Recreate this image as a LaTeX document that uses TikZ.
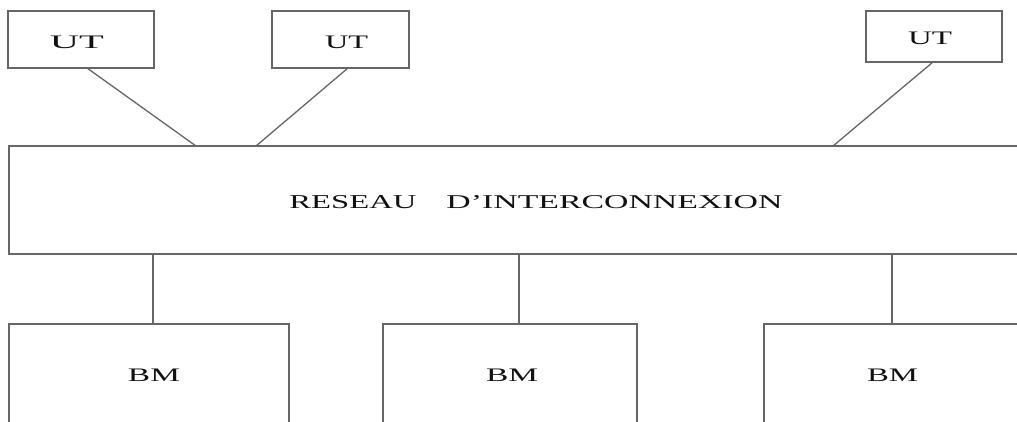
\documentclass[tikz,border=0pt]{standalone}
\usepackage{fontspec}
\setmainfont{Liberation Serif}
\usepackage{graphicx}
\definecolor{lc}{HTML}{666666}
\definecolor{tc}{HTML}{111111}
\newcommand{\stx}[2]{\resizebox{#1pt}{12.5pt}{#2}}
\begin{document}
\begin{tikzpicture}[x=1pt,y=-1pt,
  box/.style={draw=lc,line width=1.3pt,inner sep=0pt,outer sep=0pt,rectangle},
  lbl/.style={inner sep=0pt,outer sep=0pt,text=tc},
  link/.style={draw=lc,line width=1.3pt}]
\useasboundingbox[fill=white] (0,0) rectangle (1017,421);
\clip (0,0) rectangle (1017,421);
% UT boxes
\node[box,minimum width=146pt,minimum height=57pt] (ut1) at (81,39.5) {};
\node[box,minimum width=137pt,minimum height=57pt] (ut2) at (340.5,39.5) {};
\node[box,minimum width=136pt,minimum height=51pt] (ut3) at (934,36.5) {};
\node[lbl] (ut1t) at (77,42) {\stx{54}{UT}};
\node[lbl] (ut2t) at (346.5,42) {\stx{43}{UT}};
\node[lbl] (ut3t) at (930,38.5) {\stx{44}{UT}};
% network
\node[box,minimum width=1041pt,minimum height=108pt] (net) at (529.5,200) {};
\node[lbl] (nett) at (536,202) {\resizebox{127pt}{13pt}{RESEAU}\hspace{30pt}\resizebox{336pt}{13pt}{D’INTERCONNEXION}};
% BM boxes
\node[box,minimum width=280pt,minimum height=176pt] (bm1) at (149,412) {};
\node[box,minimum width=254pt,minimum height=176pt] (bm2) at (510,412) {};
\node[box,minimum width=296pt,minimum height=176pt] (bm3) at (912,412) {};
\node[lbl] (bm1t) at (154,375.5) {\stx{52}{BM}};
\node[lbl] (bm2t) at (512,375.5) {\stx{52}{BM}};
\node[lbl] (bm3t) at (892.5,375.5) {\stx{51}{BM}};
% links
\draw[link] (ut1.south -| 87,0) -- (net.north -| 196,0);
\draw[link] (ut2.south -| 348,0) -- (net.north -| 256,0);
\draw[link] (ut3.south -| 933,0) -- (net.north -| 833,0);
\draw[link] (net.south -| 153,0) -- (bm1.north -| 153,0);
\draw[link] (net.south -| 519,0) -- (bm2.north -| 519,0);
\draw[link] (net.south -| 892,0) -- (bm3.north -| 892,0);
\end{tikzpicture}
\end{document}
